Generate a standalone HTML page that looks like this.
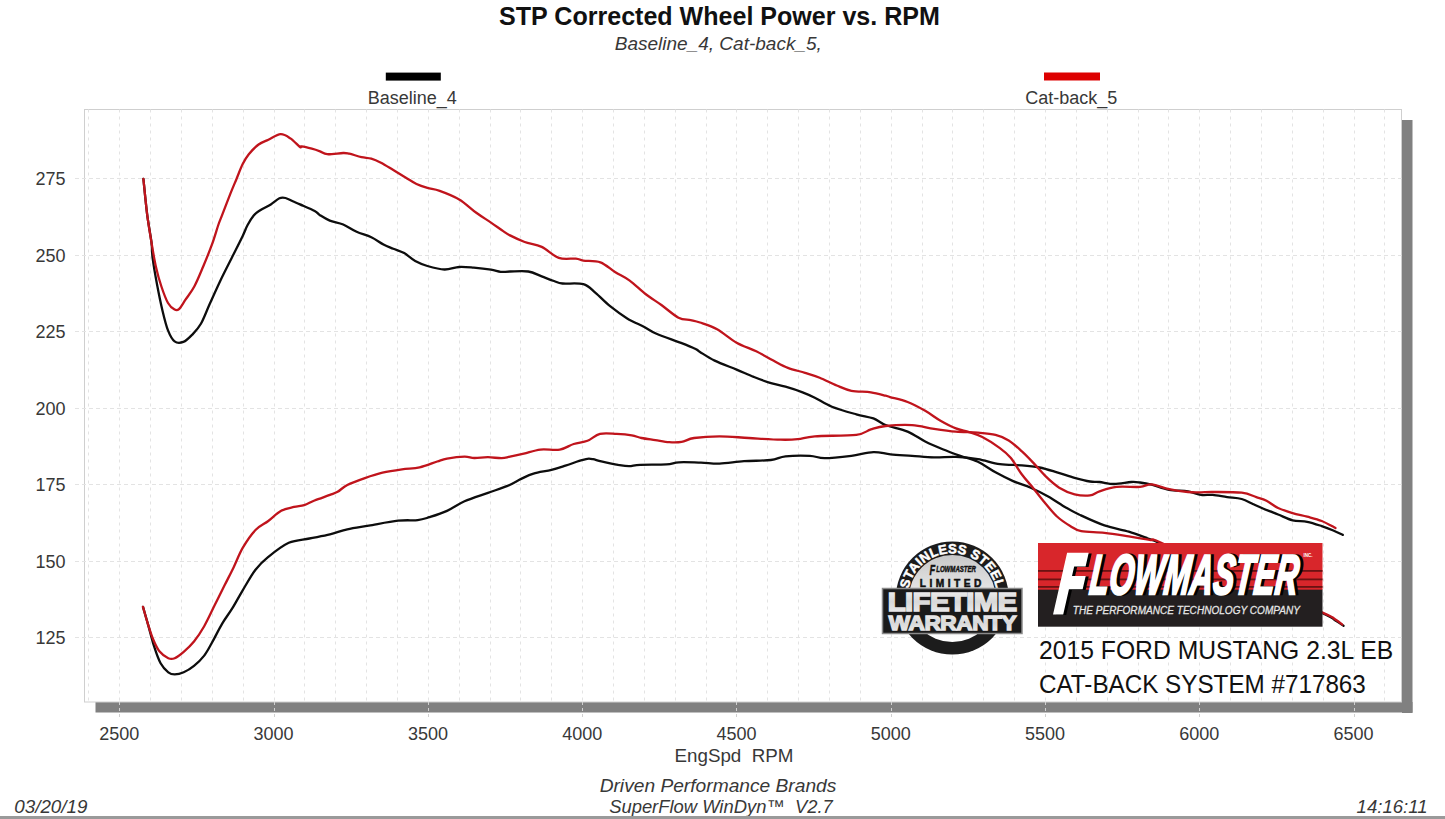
<!DOCTYPE html>
<html><head><meta charset="utf-8"><style>
html,body{margin:0;padding:0;background:#fff;}
body{width:1445px;height:819px;position:relative;overflow:hidden;font-family:"Liberation Sans", sans-serif;}
</style></head><body>
<svg width="1445" height="819" viewBox="0 0 1445 819" style="position:absolute;left:0;top:0">
<defs>
<clipPath id="plotclip"><rect x="84.5" y="109.5" width="1317.0" height="592.5"/></clipPath>
<linearGradient id="badgeIn" x1="0" y1="0" x2="0" y2="1">
<stop offset="0" stop-color="#c8c8c8"/><stop offset="0.5" stop-color="#ececec"/><stop offset="1" stop-color="#ffffff"/>
</linearGradient>
<linearGradient id="ltGrad" x1="0" y1="0" x2="0" y2="1">
<stop offset="0" stop-color="#f4f4f4"/><stop offset="0.5" stop-color="#d8d8d8"/><stop offset="1" stop-color="#f0f0f0"/>
</linearGradient>
<path id="arcTop" d="M913.50 620.40 A44.8 44.8 0 1 1 991.10 620.40"/>
</defs>
<rect x="0" y="0" width="1445" height="819" fill="#fff"/>
<!-- shadow -->
<rect x="1402" y="120" width="10.5" height="593" fill="#808080"/>
<rect x="95.5" y="702" width="1317" height="10.5" fill="#808080"/>
<path d="M119.5 702V719M274.5 702V719M428.5 702V719M582.5 702V719M736.5 702V719M891.5 702V719M1045.5 702V719M1199.5 702V719M1354.5 702V719" stroke="#d0d0d0" stroke-width="1" stroke-dasharray="3 3"/>
<!-- plot frame -->
<rect x="84.5" y="109.5" width="1317.0" height="592.5" fill="#fff" stroke="#cfcfcf" stroke-width="1"/>
<path d="M88.5 109.5V702.0M119.5 109.5V702.0M150.5 109.5V702.0M181.5 109.5V702.0M212.5 109.5V702.0M243.5 109.5V702.0M274.5 109.5V702.0M304.5 109.5V702.0M335.5 109.5V702.0M366.5 109.5V702.0M397.5 109.5V702.0M428.5 109.5V702.0M459.5 109.5V702.0M490.5 109.5V702.0M520.5 109.5V702.0M551.5 109.5V702.0M582.5 109.5V702.0M613.5 109.5V702.0M644.5 109.5V702.0M675.5 109.5V702.0M706.5 109.5V702.0M736.5 109.5V702.0M767.5 109.5V702.0M798.5 109.5V702.0M829.5 109.5V702.0M860.5 109.5V702.0M891.5 109.5V702.0M922.5 109.5V702.0M952.5 109.5V702.0M983.5 109.5V702.0M1014.5 109.5V702.0M1045.5 109.5V702.0M1076.5 109.5V702.0M1107.5 109.5V702.0M1138.5 109.5V702.0M1168.5 109.5V702.0M1199.5 109.5V702.0M1230.5 109.5V702.0M1261.5 109.5V702.0M1292.5 109.5V702.0M1323.5 109.5V702.0M1354.5 109.5V702.0M1384.5 109.5V702.0" stroke="#e3e3e3" stroke-width="1" stroke-dasharray="3 4" fill="none"/>
<path d="M75 637.5H1401.5M75 561.5H1401.5M75 484.5H1401.5M75 408.5H1401.5M75 331.5H1401.5M75 255.5H1401.5M75 178.5H1401.5" stroke="#e3e3e3" stroke-width="1" stroke-dasharray="4 3" fill="none"/>
<!-- curves -->
<g clip-path="url(#plotclip)" fill="none" stroke-width="2.3" stroke-linejoin="round" stroke-linecap="round">
<path d="M143.40 178.80C144.02 184.67 145.75 203.38 147.10 214.00C148.45 224.62 150.58 235.18 151.50 242.50C152.42 249.82 151.68 250.93 152.60 257.90C153.52 264.87 155.35 275.50 157.00 284.30C158.65 293.10 160.67 303.02 162.50 310.70C164.33 318.38 165.98 325.28 168.00 330.40C170.02 335.52 172.03 339.48 174.60 341.40C177.17 343.32 180.48 343.00 183.40 341.90C186.32 340.80 189.18 337.82 192.10 334.80C195.02 331.78 197.97 328.93 200.90 323.80C203.83 318.67 206.40 311.32 209.70 304.00C213.00 296.68 217.03 287.58 220.70 279.90C224.37 272.22 228.03 265.23 231.70 257.90C235.37 250.57 240.05 241.38 242.70 235.90C245.35 230.42 245.77 228.42 247.60 225.00C249.43 221.58 251.67 217.82 253.70 215.40C255.73 212.98 256.95 212.33 259.80 210.50C262.65 208.67 267.53 206.43 270.80 204.40C274.07 202.37 276.95 199.37 279.40 198.30C281.85 197.23 283.27 197.50 285.50 198.00C287.73 198.50 290.38 200.23 292.80 201.30C295.22 202.37 296.35 202.78 300.00 204.40C303.65 206.02 311.37 209.20 314.70 211.00C318.03 212.80 317.48 213.60 320.00 215.20C322.52 216.80 325.93 219.05 329.80 220.60C333.67 222.15 338.73 222.63 343.20 224.50C347.67 226.37 351.92 229.68 356.60 231.80C361.28 233.92 366.82 235.08 371.30 237.20C375.78 239.32 379.83 242.58 383.50 244.50C387.17 246.42 389.85 247.27 393.30 248.70C396.75 250.13 400.55 251.03 404.20 253.10C407.85 255.17 411.33 258.95 415.20 261.10C419.07 263.25 422.52 264.60 427.40 266.00C432.28 267.40 439.20 269.33 444.50 269.50C449.80 269.67 454.32 267.30 459.20 267.00C464.08 266.70 468.50 267.25 473.80 267.70C479.10 268.15 486.52 269.00 491.00 269.70C495.48 270.40 497.53 271.60 500.70 271.90C503.87 272.20 505.40 271.57 510.00 271.50C514.60 271.43 523.02 270.68 528.30 271.50C533.58 272.32 537.42 274.82 541.70 276.40C545.98 277.98 550.53 279.82 554.00 281.00C557.47 282.18 557.62 282.97 562.50 283.50C567.38 284.03 577.80 282.65 583.30 284.20C588.80 285.75 591.03 289.13 595.50 292.80C599.97 296.47 604.82 301.93 610.10 306.20C615.38 310.47 621.50 314.93 627.20 318.40C632.90 321.87 639.42 324.43 644.30 327.00C649.18 329.57 650.38 331.15 656.50 333.80C662.62 336.45 674.48 340.37 681.00 342.90C687.52 345.43 692.43 347.48 695.60 349.00C698.77 350.52 696.82 350.07 700.00 352.00C703.18 353.93 708.60 357.67 714.70 360.60C720.80 363.53 730.10 366.88 736.60 369.60C743.10 372.32 748.40 374.78 753.70 376.90C759.00 379.02 763.10 380.67 768.40 382.30C773.70 383.93 779.80 385.03 785.50 386.70C791.20 388.37 797.72 390.47 802.60 392.30C807.48 394.13 809.92 395.30 814.80 397.70C819.68 400.10 824.98 403.93 831.90 406.70C838.82 409.47 849.38 412.35 856.30 414.30C863.22 416.25 868.52 416.62 873.40 418.40C878.28 420.18 879.90 422.80 885.60 425.00C891.30 427.20 901.00 428.85 907.60 431.60C914.20 434.35 919.35 438.57 925.20 441.50C931.05 444.43 936.85 446.82 942.70 449.20C948.55 451.58 954.43 453.70 960.30 455.80C966.17 457.90 972.03 459.05 977.90 461.80C983.77 464.55 989.63 469.08 995.50 472.30C1001.37 475.52 1007.23 478.53 1013.10 481.10C1018.97 483.67 1024.85 485.13 1030.70 487.70C1036.55 490.27 1042.35 493.20 1048.20 496.50C1054.05 499.80 1060.67 504.50 1065.80 507.50C1070.93 510.50 1072.57 511.52 1079.00 514.50C1085.43 517.48 1096.10 522.55 1104.40 525.40C1112.70 528.25 1121.88 529.55 1128.80 531.60C1135.72 533.65 1141.02 535.88 1145.90 537.70C1150.78 539.52 1142.42 535.95 1158.10 542.50C1173.78 549.05 1212.68 565.25 1240.00 577.00C1267.32 588.75 1306.10 605.73 1322.00 613.00C1337.90 620.27 1331.82 618.47 1335.40 620.60C1338.98 622.73 1342.15 624.93 1343.50 625.80" stroke="#0d0d0d"/>
<path d="M143.00 606.90C143.80 609.68 145.93 616.97 147.80 623.60C149.67 630.23 152.07 640.08 154.20 646.70C156.33 653.32 158.25 659.03 160.60 663.30C162.95 667.57 165.95 670.45 168.30 672.30C170.65 674.15 172.13 674.40 174.70 674.40C177.27 674.40 180.48 673.72 183.70 672.30C186.92 670.88 190.58 668.68 194.00 665.90C197.42 663.12 201.22 659.45 204.20 655.60C207.18 651.75 208.90 648.13 211.90 642.80C214.90 637.47 218.78 629.37 222.20 623.60C225.62 617.83 228.98 613.75 232.40 608.20C235.82 602.65 238.85 596.72 242.70 590.30C246.55 583.88 251.23 575.27 255.50 569.70C259.77 564.13 262.75 561.38 268.30 556.90C273.85 552.42 281.95 545.87 288.80 542.80C295.65 539.73 302.55 539.90 309.40 538.50C316.25 537.10 323.58 535.93 329.90 534.40C336.22 532.87 340.82 530.77 347.30 529.30C353.78 527.83 360.33 527.03 368.80 525.60C377.27 524.17 389.95 521.62 398.10 520.70C406.25 519.78 412.48 520.68 417.70 520.10C422.92 519.52 424.52 518.73 429.40 517.20C434.28 515.67 441.15 513.57 447.00 510.90C452.85 508.23 457.67 504.22 464.50 501.20C471.33 498.18 480.83 495.35 488.00 492.80C495.17 490.25 501.98 488.22 507.50 485.90C513.02 483.58 516.77 480.95 521.10 478.90C525.43 476.85 528.43 475.10 533.50 473.60C538.57 472.10 546.18 471.22 551.50 469.90C556.82 468.58 560.78 467.20 565.40 465.70C570.02 464.20 575.52 462.05 579.20 460.90C582.88 459.75 585.20 459.08 587.50 458.80C589.80 458.52 590.70 458.78 593.00 459.20C595.30 459.62 597.13 460.37 601.30 461.30C605.47 462.23 613.38 463.98 618.00 464.80C622.62 465.62 625.32 466.20 629.00 466.20C632.68 466.20 633.87 465.10 640.10 464.80C646.33 464.50 659.93 464.82 666.40 464.40C672.87 463.98 673.13 462.60 678.90 462.30C684.67 462.00 694.23 462.38 701.00 462.60C707.77 462.82 712.33 463.83 719.50 463.60C726.67 463.37 735.45 461.80 744.00 461.20C752.55 460.60 763.88 460.82 770.80 460.00C777.72 459.18 778.98 457.00 785.50 456.30C792.02 455.60 803.40 455.48 809.90 455.80C816.40 456.12 817.58 458.20 824.50 458.20C831.42 458.20 843.25 456.82 851.40 455.80C859.55 454.78 866.88 452.35 873.40 452.10C879.92 451.85 884.07 453.68 890.50 454.30C896.93 454.92 904.75 455.28 912.00 455.80C919.25 456.32 926.68 457.22 934.00 457.40C941.32 457.58 948.58 456.62 955.90 456.90C963.22 457.18 970.57 457.88 977.90 459.10C985.23 460.32 992.57 463.17 999.90 464.20C1007.23 465.23 1015.30 464.75 1021.90 465.30C1028.50 465.85 1033.65 466.33 1039.50 467.50C1045.35 468.67 1051.15 470.58 1057.00 472.30C1062.85 474.02 1069.10 476.27 1074.60 477.80C1080.10 479.33 1085.85 480.80 1090.00 481.50C1094.15 482.20 1095.47 481.58 1099.50 482.00C1103.53 482.42 1108.90 484.00 1114.20 484.00C1119.50 484.00 1127.00 482.25 1131.30 482.00C1135.60 481.75 1136.62 482.05 1140.00 482.50C1143.38 482.95 1146.75 483.48 1151.60 484.70C1156.45 485.92 1163.03 488.70 1169.10 489.80C1175.17 490.90 1182.68 490.45 1188.00 491.30C1193.32 492.15 1196.88 494.30 1201.00 494.90C1205.12 495.50 1208.33 494.53 1212.70 494.90C1217.07 495.27 1222.37 496.42 1227.20 497.10C1232.03 497.78 1237.33 497.80 1241.70 499.00C1246.07 500.20 1249.77 502.68 1253.40 504.30C1257.03 505.92 1259.38 507.00 1263.50 508.70C1267.62 510.40 1273.25 512.57 1278.10 514.50C1282.95 516.43 1287.75 519.08 1292.60 520.30C1297.45 521.52 1302.35 520.83 1307.20 521.80C1312.05 522.77 1317.35 524.65 1321.70 526.10C1326.05 527.55 1329.78 529.03 1333.30 530.50C1336.82 531.97 1341.22 534.17 1342.80 534.90" stroke="#0d0d0d"/>
<path d="M143.40 178.80C144.02 184.67 145.75 203.38 147.10 214.00C148.45 224.62 150.03 233.72 151.50 242.50C152.97 251.28 154.25 259.37 155.90 266.70C157.55 274.03 159.38 280.45 161.40 286.50C163.42 292.55 165.80 299.15 168.00 303.00C170.20 306.85 172.77 308.58 174.60 309.60C176.43 310.62 177.18 310.75 179.00 309.10C180.82 307.45 182.95 303.47 185.50 299.70C188.05 295.93 191.37 292.00 194.30 286.50C197.23 281.00 200.17 273.67 203.10 266.70C206.03 259.73 209.37 251.65 211.90 244.70C214.43 237.75 216.62 229.88 218.30 225.00C219.98 220.12 219.97 220.67 222.00 215.40C224.03 210.13 228.07 199.52 230.50 193.40C232.93 187.28 234.57 183.58 236.60 178.70C238.63 173.82 240.67 168.17 242.70 164.10C244.73 160.03 246.15 157.57 248.80 154.30C251.45 151.03 255.33 146.93 258.60 144.50C261.87 142.07 264.73 141.42 268.40 139.70C272.07 137.98 276.93 134.42 280.60 134.20C284.27 133.98 287.17 136.27 290.40 138.40C293.63 140.53 298.13 145.67 300.00 147.00C301.87 148.33 299.63 146.12 301.60 146.40C303.57 146.68 308.73 147.88 311.80 148.70C314.87 149.52 317.42 150.38 320.00 151.30C322.58 152.22 323.43 153.92 327.30 154.20C331.17 154.48 339.53 153.08 343.20 153.00C346.87 152.92 346.25 153.02 349.30 153.70C352.35 154.38 357.83 156.28 361.50 157.10C365.17 157.92 368.05 157.67 371.30 158.60C374.55 159.53 377.33 160.80 381.00 162.70C384.67 164.60 389.22 167.55 393.30 170.00C397.38 172.45 401.63 175.07 405.50 177.40C409.37 179.73 412.85 182.25 416.50 184.00C420.15 185.75 423.53 186.77 427.40 187.90C431.27 189.03 434.40 188.88 439.70 190.80C445.00 192.72 453.10 195.73 459.20 199.40C465.30 203.07 471.00 208.93 476.30 212.80C481.60 216.67 486.52 219.55 491.00 222.60C495.48 225.65 500.03 228.97 503.20 231.10C506.37 233.23 506.42 233.58 510.00 235.40C513.58 237.22 519.42 240.08 524.70 242.00C529.98 243.92 536.02 244.25 541.70 246.90C547.38 249.55 553.10 255.95 558.80 257.90C564.50 259.85 571.82 258.15 575.90 258.60C579.98 259.05 579.22 259.98 583.30 260.60C587.38 261.22 595.12 260.40 600.40 262.30C605.68 264.20 610.12 268.95 615.00 272.00C619.88 275.05 624.62 276.93 629.70 280.60C634.78 284.27 640.22 289.93 645.50 294.00C650.78 298.07 655.90 301.05 661.40 305.00C666.90 308.95 673.62 315.18 678.50 317.70C683.38 320.22 687.12 319.30 690.70 320.10C694.28 320.90 695.60 320.97 700.00 322.50C704.40 324.03 711.00 325.93 717.10 329.30C723.20 332.67 730.08 339.03 736.60 342.70C743.12 346.37 750.08 348.32 756.20 351.30C762.32 354.28 768.02 357.83 773.30 360.60C778.58 363.37 782.62 365.87 787.90 367.90C793.18 369.93 799.70 371.17 805.00 372.80C810.30 374.43 814.42 375.58 819.70 377.70C824.98 379.82 831.42 383.32 836.70 385.50C841.98 387.68 845.70 389.67 851.40 390.80C857.10 391.93 865.20 391.48 870.90 392.30C876.60 393.12 882.42 394.90 885.60 395.70C888.78 396.50 886.33 396.05 890.00 397.10C893.67 398.15 901.73 399.72 907.60 402.00C913.47 404.28 919.72 407.68 925.20 410.80C930.68 413.92 935.38 417.77 940.50 420.70C945.62 423.63 951.13 426.50 955.90 428.40C960.67 430.30 964.70 430.65 969.10 432.10C973.50 433.55 977.17 434.43 982.30 437.10C987.43 439.77 995.13 444.62 999.90 448.10C1004.67 451.58 1007.23 453.60 1010.90 458.00C1014.57 462.40 1018.23 469.55 1021.90 474.50C1025.57 479.45 1029.25 483.20 1032.90 487.70C1036.55 492.20 1039.78 496.70 1043.80 501.50C1047.82 506.30 1052.60 512.42 1057.00 516.50C1061.40 520.58 1066.17 523.55 1070.20 526.00C1074.23 528.45 1075.50 530.07 1081.20 531.20C1086.90 532.33 1096.47 531.93 1104.40 532.80C1112.33 533.67 1121.07 535.18 1128.80 536.40C1136.53 537.62 1145.50 539.08 1150.80 540.10C1156.10 541.12 1145.73 536.35 1160.60 542.50C1175.47 548.65 1213.10 565.35 1240.00 577.00C1266.90 588.65 1306.10 605.30 1322.00 612.40C1337.90 619.50 1332.02 617.57 1335.40 619.60C1338.78 621.63 1341.15 623.77 1342.30 624.60" stroke="#c0141c"/>
<path d="M143.00 606.90C143.80 609.68 146.13 618.25 147.80 623.60C149.47 628.95 151.07 634.38 153.00 639.00C154.93 643.62 156.85 648.10 159.40 651.30C161.95 654.50 165.75 657.05 168.30 658.20C170.85 659.35 172.13 659.27 174.70 658.20C177.27 657.13 180.48 654.58 183.70 651.80C186.92 649.02 190.58 645.77 194.00 641.50C197.42 637.23 200.78 632.18 204.20 626.20C207.62 620.22 211.08 612.45 214.50 605.60C217.92 598.75 221.50 591.50 224.70 585.10C227.90 578.70 230.70 573.40 233.70 567.20C236.70 561.00 239.07 554.10 242.70 547.90C246.33 541.70 251.23 534.48 255.50 530.00C259.77 525.52 264.02 524.20 268.30 521.00C272.58 517.80 276.92 513.15 281.20 510.80C285.48 508.45 290.17 507.85 294.00 506.90C297.83 505.95 300.78 506.17 304.20 505.10C307.62 504.03 310.22 502.20 314.50 500.50C318.78 498.80 326.05 496.35 329.90 494.90C333.75 493.45 334.70 493.45 337.60 491.80C340.50 490.15 342.75 487.28 347.30 485.00C351.85 482.72 359.03 480.15 364.90 478.10C370.77 476.05 376.32 474.17 382.50 472.70C388.68 471.23 395.82 470.18 402.00 469.30C408.18 468.42 413.73 468.70 419.60 467.40C425.47 466.10 432.63 462.97 437.20 461.50C441.77 460.03 442.45 459.42 447.00 458.60C451.55 457.78 459.95 456.70 464.50 456.60C469.05 456.50 470.38 457.90 474.30 458.00C478.22 458.10 483.45 457.17 488.00 457.20C492.55 457.23 497.93 458.28 501.60 458.20C505.27 458.12 506.30 457.45 510.00 456.70C513.70 455.95 518.73 454.88 523.80 453.70C528.87 452.52 534.40 450.28 540.40 449.60C546.40 448.92 554.25 450.53 559.80 449.60C565.35 448.67 569.08 445.47 573.70 444.00C578.32 442.53 583.12 442.48 587.50 440.80C591.88 439.12 595.15 435.05 600.00 433.90C604.85 432.75 611.30 433.67 616.60 433.90C621.90 434.13 627.65 434.62 631.80 435.30C635.95 435.98 637.58 437.20 641.50 438.00C645.42 438.80 650.68 439.40 655.30 440.10C659.92 440.80 664.82 441.90 669.20 442.20C673.58 442.50 677.45 442.60 681.60 441.90C685.75 441.20 687.78 438.93 694.10 438.00C700.42 437.07 710.38 436.30 719.50 436.30C728.62 436.30 738.62 437.43 748.80 438.00C758.98 438.57 772.45 439.50 780.60 439.70C788.75 439.90 792.00 439.77 797.70 439.20C803.40 438.63 805.03 437.03 814.80 436.30C824.57 435.57 846.95 435.95 856.30 434.80C865.65 433.65 866.02 430.87 870.90 429.40C875.78 427.93 878.75 426.72 885.60 426.00C892.45 425.28 903.93 424.63 912.00 425.10C920.07 425.57 926.68 427.72 934.00 428.80C941.32 429.88 948.58 430.95 955.90 431.60C963.22 432.25 971.30 432.15 977.90 432.70C984.50 433.25 990.37 433.62 995.50 434.90C1000.63 436.18 1004.30 437.65 1008.70 440.40C1013.10 443.15 1017.87 447.73 1021.90 451.40C1025.93 455.07 1028.88 458.18 1032.90 462.40C1036.92 466.62 1041.62 472.48 1046.00 476.70C1050.38 480.92 1054.43 484.77 1059.20 487.70C1063.97 490.63 1069.47 493.02 1074.60 494.30C1079.73 495.58 1085.85 495.90 1090.00 495.40C1094.15 494.90 1095.07 492.72 1099.50 491.30C1103.93 489.88 1109.85 487.63 1116.60 486.90C1123.35 486.17 1134.17 487.32 1140.00 486.90C1145.83 486.48 1146.75 484.03 1151.60 484.40C1156.45 484.77 1163.03 487.83 1169.10 489.10C1175.17 490.37 1182.68 491.47 1188.00 492.00C1193.32 492.53 1196.88 492.30 1201.00 492.30C1205.12 492.30 1205.92 491.93 1212.70 492.00C1219.48 492.07 1234.43 491.85 1241.70 492.70C1248.97 493.55 1252.17 495.77 1256.30 497.10C1260.43 498.43 1262.87 498.88 1266.50 500.70C1270.13 502.52 1273.75 505.93 1278.10 508.00C1282.45 510.07 1287.75 511.65 1292.60 513.10C1297.45 514.55 1302.35 515.38 1307.20 516.70C1312.05 518.02 1316.98 519.12 1321.70 521.00C1326.42 522.88 1333.20 526.83 1335.50 528.00" stroke="#c0141c"/>
</g>
<g font-family='"Liberation Sans", sans-serif' font-size="18" fill="#383838"><text x="65.5" y="644.2" text-anchor="end">125</text><text x="65.5" y="567.7" text-anchor="end">150</text><text x="65.5" y="491.2" text-anchor="end">175</text><text x="65.5" y="414.7" text-anchor="end">200</text><text x="65.5" y="338.2" text-anchor="end">225</text><text x="65.5" y="261.7" text-anchor="end">250</text><text x="65.5" y="185.2" text-anchor="end">275</text><text x="119.3" y="740.3" text-anchor="middle">2500</text><text x="273.6" y="740.3" text-anchor="middle">3000</text><text x="427.9" y="740.3" text-anchor="middle">3500</text><text x="582.2" y="740.3" text-anchor="middle">4000</text><text x="736.5" y="740.3" text-anchor="middle">4500</text><text x="890.8" y="740.3" text-anchor="middle">5000</text><text x="1045.0" y="740.3" text-anchor="middle">5500</text><text x="1199.3" y="740.3" text-anchor="middle">6000</text><text x="1353.6" y="740.3" text-anchor="middle">6500</text></g><g font-family='"Liberation Sans", sans-serif' fill="#111">
<text x="719.5" y="24.7" text-anchor="middle" font-size="25.05" font-weight="bold">STP Corrected Wheel Power vs. RPM</text>
<text x="718.3" y="49.7" text-anchor="middle" font-size="19" font-style="italic" fill="#383838">Baseline_4, Cat-back_5,</text>
<rect x="385.8" y="72.6" width="55" height="8" fill="#000"/>
<text x="412.3" y="104" text-anchor="middle" font-size="18" fill="#383838">Baseline_4</text>
<rect x="1044" y="72.5" width="56" height="8" fill="#dd0000"/>
<text x="1071.2" y="104" text-anchor="middle" font-size="18" fill="#383838">Cat-back_5</text>
<text x="734" y="762" text-anchor="middle" font-size="18.8" fill="#383838" xml:space="preserve">EngSpd  RPM</text>
<text x="718" y="791.6" text-anchor="middle" font-size="19.2" font-style="italic" fill="#383838">Driven Performance Brands</text>
<text x="721" y="812.5" text-anchor="middle" font-size="18.4" font-style="italic" fill="#383838" xml:space="preserve">SuperFlow WinDyn™  V2.7</text>
<text x="14.3" y="813" font-size="18.8" font-style="italic" fill="#383838">03/20/19</text>
<text x="1427.6" y="812.8" text-anchor="end" font-size="18.6" font-style="italic" fill="#383838">14:16:11</text>
</g>
<rect x="0" y="816" width="1445" height="3" fill="#9a9a9a"/>
<g>
<circle cx="952.3" cy="598" r="56.5" fill="#1c1c1c"/>
<circle cx="952.3" cy="598.5" r="43.5" fill="url(#badgeIn)"/>
<text font-family='"Liberation Sans", sans-serif' font-weight="bold" font-size="13.2" fill="#fff" stroke="#fff" stroke-width="0.5" letter-spacing="0.2"><textPath href="#arcTop" startOffset="50%" text-anchor="middle">STAINLESS STEEL</textPath></text>
<text x="0" y="0" font-family='"Liberation Sans", sans-serif' font-weight="bold" font-style="italic" font-size="15" fill="#111" stroke="#111" stroke-width="0.5" transform="translate(929.5 574.6) scale(0.62 1)">F</text>
<text x="0" y="0" font-family='"Liberation Sans", sans-serif' font-weight="bold" font-style="italic" font-size="9.2" fill="#111" stroke="#111" stroke-width="0.45" transform="translate(936.2 572.2) scale(0.66 1)">LOWMASTER</text>
<text x="952.3" y="586.5" text-anchor="middle" font-family='"Liberation Sans", sans-serif' font-weight="bold" font-size="10.2" fill="#111" stroke="#111" stroke-width="0.5" letter-spacing="3.5">LIMITED</text>
<rect x="882.5" y="588.5" width="139.5" height="45" fill="#1a1a1a" stroke="#8a8a8a" stroke-width="1.5"/>
<text x="0" y="0" text-anchor="middle" font-family='"Liberation Sans", sans-serif' font-weight="bold" font-size="26.5" fill="url(#ltGrad)" stroke="url(#ltGrad)" stroke-width="1.6" transform="translate(952.1 610.8) scale(1.11 1.0)" letter-spacing="-0.6">LIFETIME</text>
<text x="0" y="0" text-anchor="middle" font-family='"Liberation Sans", sans-serif' font-weight="bold" font-size="20.5" fill="url(#ltGrad)" stroke="url(#ltGrad)" stroke-width="1.4" transform="translate(952.5 629.9) scale(1.105 1.0)" letter-spacing="-0.4">WARRANTY</text>
</g>
<g>
<rect x="1038" y="543" width="284.5" height="47" fill="#d8262b"/>
<rect x="1038" y="570" width="284.5" height="1.8" fill="#6a1212"/>
<rect x="1038" y="578.5" width="284.5" height="1.8" fill="#6a1212"/>
<rect x="1038" y="586" width="284.5" height="1.8" fill="#6a1212"/>
<rect x="1038" y="589.7" width="284.5" height="37" fill="#231f20"/>
<g font-family='"Liberation Sans", sans-serif' font-weight="bold" font-style="italic">
<path d="M1067.10 552.80 L1088.70 552.80 L1085.59 566.40 L1074.19 566.40 L1072.00 576.00 L1085.70 576.00 L1082.66 589.30 L1068.96 589.30 L1063.22 614.40 L1053.02 614.40Z" fill="#000" transform="translate(3 0.6)"/>
<path d="M1067.10 552.80 L1088.70 552.80 L1085.59 566.40 L1074.19 566.40 L1072.00 576.00 L1085.70 576.00 L1082.66 589.30 L1068.96 589.30 L1063.22 614.40 L1053.02 614.40Z" fill="#fff"/>
<text x="0" y="0" font-size="56" fill="#000" stroke="#000" stroke-width="2.6" transform="translate(1091.5 594.4) scale(0.56 1) skewX(-11)" letter-spacing="0.6">LOWMASTER</text>
<text x="0" y="0" font-size="56" fill="#fff" stroke="#fff" stroke-width="2.6" transform="translate(1088.5 594) scale(0.56 1) skewX(-11)" letter-spacing="0.6">LOWMASTER</text>
<text x="1303.5" y="556.5" font-size="4.5" fill="#fff" font-style="normal">INC.</text>
<text x="0" y="0" font-size="10.6" fill="#e6e6e6" stroke="#e6e6e6" stroke-width="0.25" font-weight="normal" transform="translate(1072.8 614.4) scale(0.95 1)">THE PERFORMANCE TECHNOLOGY COMPANY</text>
</g>
</g>
<g font-family='"Liberation Sans", sans-serif' fill="#111" font-size="25">
<text x="1039" y="659" transform="translate(1039 659) scale(0.9886 1) translate(-1039 -659)">2015 FORD MUSTANG 2.3L EB</text>
<text x="1039" y="692.9" transform="translate(1039 692.9) scale(0.97 1) translate(-1039 -692.9)">CAT-BACK SYSTEM #717863</text>
</g>
</svg>
</body></html>
